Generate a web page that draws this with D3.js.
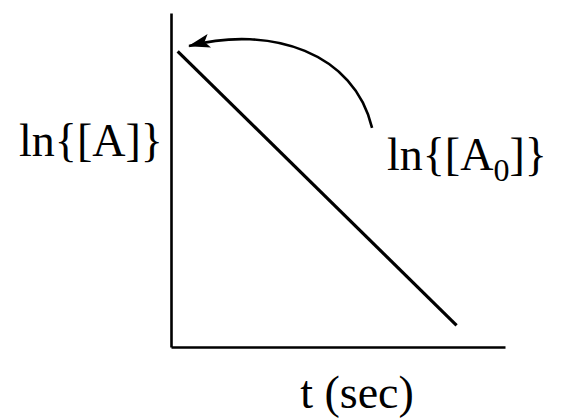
<!DOCTYPE html>
<html>
<head>
<meta charset="utf-8">
<script src="https://cdn.jsdelivr.net/npm/d3@7"></script>
<style>
  html, body { margin: 0; padding: 0; background: #fff; }
  svg { display: block; }
  text { font-family: "Liberation Serif", "Times New Roman", serif; fill: #000; }
</style>
</head>
<body>
<svg id="chart" width="561" height="419"></svg>
<script>
// First-order kinetics: ln[A] falls linearly with time
const timeValues = [2, 85.5];
const lnAValues = [88.5, 6.5];

// Curved pointer from the ln[A0] label to the line's intercept
const pointerX = [60.2, 55.0, 30.0, 5.4];
const pointerY = [65.6, 88.0, 96.5, 90.1];

const yLabel = "ln{[A]}";
const xLabel = "t (sec)";
const interceptLabel = ["ln{[A", "0", "]}"];

const svg = d3.select("#chart");
const x = d3.scaleLinear().domain([0, 100]).range([171, 505]);
const y = d3.scaleLinear().domain([0, 100]).range([347, 13]);

// Arrowhead marker
svg.append("defs").append("marker")
  .attr("id", "head")
  .attr("viewBox", "0 0 22 14")
  .attr("refX", 21).attr("refY", 7)
  .attr("markerWidth", 22).attr("markerHeight", 14)
  .attr("markerUnits", "userSpaceOnUse")
  .attr("orient", "auto")
  .append("path")
  .attr("d", "M0,0 L22,7 L0,14 L5,7 Z")
  .attr("fill", "#000");

// Axes drawn as bare lines, no ticks
svg.append("g")
  .attr("transform", `translate(0,${y(0)})`)
  .call(d3.axisBottom(x).tickValues([]).tickSizeOuter(0))
  .call(g => g.select(".domain").attr("stroke", "#000").attr("stroke-width", 2.6));
svg.append("g")
  .attr("transform", `translate(${x(0)},0)`)
  .call(d3.axisLeft(y).tickValues([]).tickSizeOuter(0))
  .call(g => g.select(".domain").attr("stroke", "#000").attr("stroke-width", 2.6));

// Data line
const pts = timeValues.map((t, i) => [t, lnAValues[i]]);
svg.append("path")
  .datum(pts)
  .attr("d", d3.line().x(d => x(d[0])).y(d => y(d[1])))
  .attr("fill", "none")
  .attr("stroke", "#000")
  .attr("stroke-width", 3.2);

// Curved pointer
const p = pointerX.map((v, i) => [x(v), y(pointerY[i])]);
svg.append("path")
  .attr("d", `M${p[0][0]},${p[0][1]} C${p[1][0]},${p[1][1]} ${p[2][0]},${p[2][1]} ${p[3][0]},${p[3][1]}`)
  .attr("fill", "none")
  .attr("stroke", "#000")
  .attr("stroke-width", 2.6)
  .attr("marker-end", "url(#head)");

// Labels
svg.append("text")
  .attr("x", 91).attr("y", 156)
  .attr("text-anchor", "middle")
  .attr("font-size", 46)
  .text(yLabel);

svg.append("text")
  .attr("x", 357).attr("y", 408)
  .attr("text-anchor", "middle")
  .attr("font-size", 46)
  .text(xLabel);

const lab = svg.append("text")
  .attr("x", 387).attr("y", 170)
  .attr("font-size", 46);
lab.append("tspan").text(interceptLabel[0]);
lab.append("tspan").attr("font-size", 32).attr("dy", 11).text(interceptLabel[1]);
lab.append("tspan").attr("dy", -11).text(interceptLabel[2]);
</script>
</body>
</html>
